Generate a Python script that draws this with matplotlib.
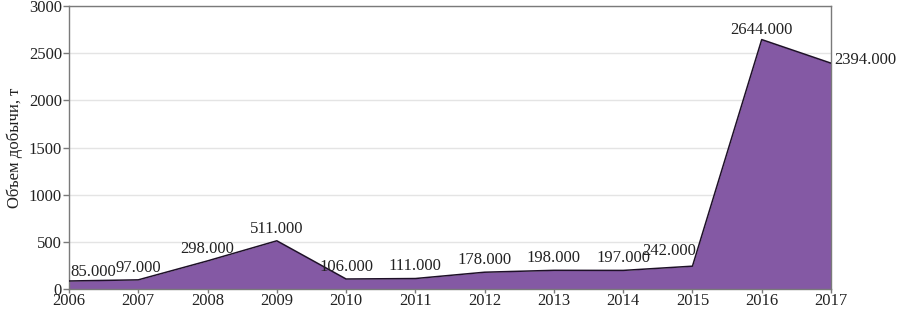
import matplotlib
matplotlib.use("Agg")
import matplotlib.pyplot as plt

years = [2006, 2007, 2008, 2009, 2010, 2011, 2012, 2013, 2014, 2015, 2016, 2017]
values = [85, 97, 298, 511, 106, 111, 178, 198, 197, 242, 2644, 2394]
y_ticks = [0, 500, 1000, 1500, 2000, 2500, 3000]
y_label = "Объем добычи, т"

plt.rcParams['font.family'] = ['Liberation Serif', 'DejaVu Serif']

fig = plt.figure(figsize=(9, 3.09), dpi=100)
ax = fig.add_axes([69/900, 1 - 289/309, (831 - 69)/900, (289 - 6)/309])

ax.fill_between(years, values, 0, color='#8459a4', linewidth=0, zorder=2)
ax.plot(years, values, color='#1e1028', linewidth=1.1, zorder=3)

ax.set_xlim(2006, 2017)
ax.set_ylim(0, 3000)
ax.set_xticks(years)
ax.set_yticks(y_ticks)
ax.grid(axis='y', color='#e4e4e4', linewidth=1, zorder=0)
ax.set_axisbelow(True)
for s in ax.spines.values():
    s.set_color('#7a7a7a')
    s.set_linewidth(1)
ax.tick_params(axis='both', labelsize=12, colors='#7a7a7a', labelcolor='#222222', length=4, width=1, pad=1)
ax.tick_params(axis='x', length=3, pad=0)
ax.set_ylabel(y_label, fontsize=12, color='#222222', labelpad=4)

for i, (x, v) in enumerate(zip(years, values)):
    label = f"{v:.3f}"
    if i == 0:
        ax.annotate(label, (x, v), xytext=(1, 1), textcoords='offset points', ha='left', va='bottom', fontsize=12, color='#222222', zorder=4)
    elif i == len(years) - 1:
        ax.annotate(label, (x, v), xytext=(2, 2), textcoords='offset points', ha='left', va='center', fontsize=12, color='#222222', annotation_clip=False, zorder=4)
    elif i == 9:
        ax.annotate(label, (x, v), xytext=(3, 5), textcoords='offset points', ha='right', va='bottom', fontsize=12, color='#222222', zorder=4)
    elif i == 10:
        ax.annotate(label, (x, v), xytext=(0, 1), textcoords='offset points', ha='center', va='bottom', fontsize=12, color='#222222', zorder=4)
    else:
        ax.annotate(label, (x, v), xytext=(0, 3), textcoords='offset points', ha='center', va='bottom', fontsize=12, color='#222222', zorder=4)

fig.savefig("out.png", dpi=100)
